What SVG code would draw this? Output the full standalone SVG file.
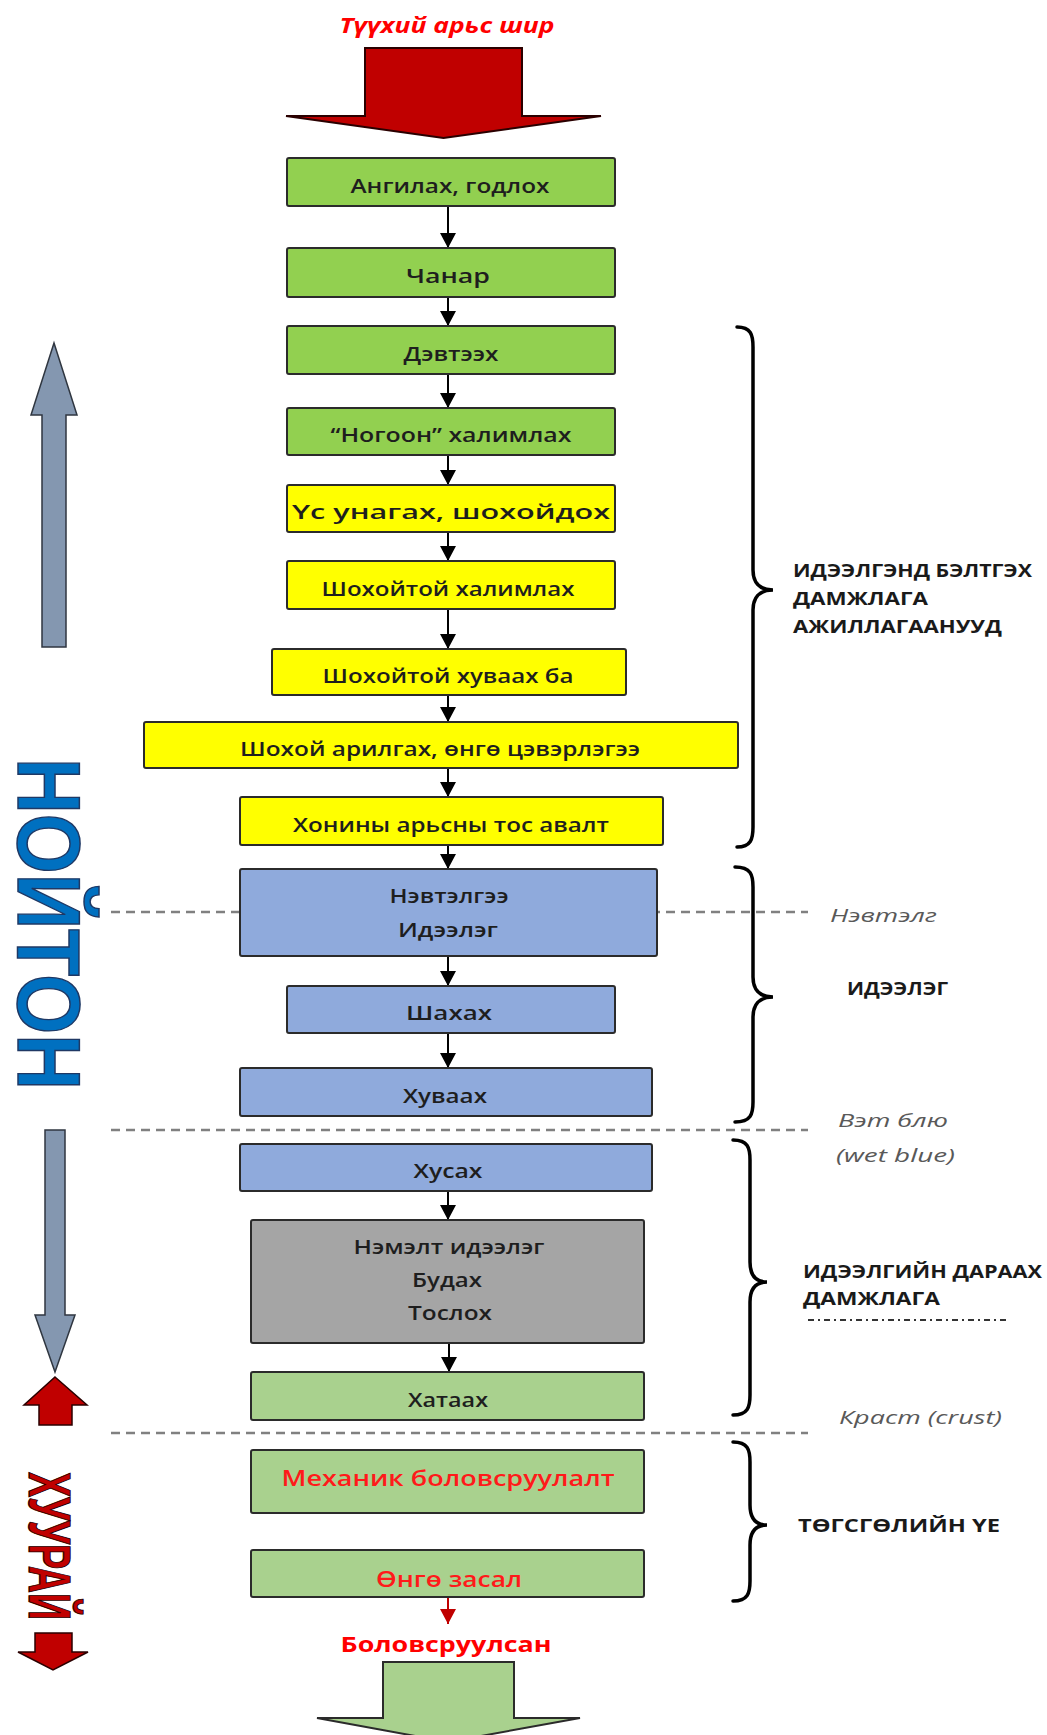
<svg xmlns="http://www.w3.org/2000/svg" width="1047" height="1735" viewBox="0 0 1047 1735">
<defs>
<style>
.bx{stroke:#2b2b2b;stroke-width:2}
.g1{fill:#92D050}.ye{fill:#FFFF00}.bl{fill:#8FAADC}.gr{fill:#A5A5A5}.g2{fill:#A9D18E}
.t{font-family:"Open Sans","DejaVu Sans",sans-serif;font-size:20px;font-weight:600;fill:#1e1e1e;text-anchor:middle}
.tr{font-family:"Open Sans","DejaVu Sans",sans-serif;font-size:22px;font-weight:600;fill:#FF1a1a;text-anchor:middle}
.lb{font-family:"Open Sans","DejaVu Sans",sans-serif;font-size:18px;font-weight:bold;fill:#1a1a1a}
.li{font-family:"Open Sans","DejaVu Sans",sans-serif;font-size:19px;font-style:italic;fill:#595959}
.dash{stroke:#808080;stroke-width:2.5;stroke-dasharray:9 6;fill:none}
.con{stroke:#000;stroke-width:2;fill:none}
.brace{stroke:#000;stroke-width:3.5;fill:none;stroke-linecap:round}
.bga{fill:#8497B0;stroke:#2F3640;stroke-width:1.5}
.rda{fill:#C00000;stroke:#2a0000;stroke-width:1.5}
</style>
<marker id="ah" markerUnits="userSpaceOnUse" markerWidth="16" markerHeight="16" refX="15" refY="8" orient="auto">
<path d="M0,0 L15,8 L0,16 z" fill="#000"/>
</marker>
<marker id="ahr" markerUnits="userSpaceOnUse" markerWidth="16" markerHeight="16" refX="15" refY="8" orient="auto">
<path d="M0,0 L15,8 L0,16 z" fill="#C00000"/>
</marker>
</defs>
<rect width="1047" height="1735" fill="#fff"/>

<g id="dashed-lines">
<line class="dash" x1="111" y1="912" x2="808" y2="912"/>
<line class="dash" x1="111" y1="1130" x2="808" y2="1130"/>
<line class="dash" x1="111" y1="1433" x2="808" y2="1433"/>
<line x1="808" y1="1320" x2="1010" y2="1320" stroke="#333" stroke-width="2" stroke-dasharray="6 4 2 4"/>
</g>

<g id="title">
<text x="447" y="33" font-family="'Open Sans','DejaVu Sans',sans-serif" font-size="21" font-weight="bold" font-style="italic" fill="#FF0000" text-anchor="middle" textLength="215" lengthAdjust="spacingAndGlyphs">Түүхий арьс шир</text>
<polygon points="365,48 522,48 522,116 601,116 443.5,138 286,116 365,116" fill="#C00000" stroke="#2a0000" stroke-width="2"/>
</g>

<g id="connectors">
<line class="con" x1="448" y1="206" x2="448" y2="248" marker-end="url(#ah)"/>
<line class="con" x1="448" y1="297" x2="448" y2="326" marker-end="url(#ah)"/>
<line class="con" x1="448" y1="374" x2="448" y2="408" marker-end="url(#ah)"/>
<line class="con" x1="448" y1="455" x2="448" y2="485" marker-end="url(#ah)"/>
<line class="con" x1="448" y1="532" x2="448" y2="561" marker-end="url(#ah)"/>
<line class="con" x1="448" y1="609" x2="448" y2="649" marker-end="url(#ah)"/>
<line class="con" x1="448" y1="695" x2="448" y2="722" marker-end="url(#ah)"/>
<line class="con" x1="448" y1="768" x2="448" y2="797" marker-end="url(#ah)"/>
<line class="con" x1="448" y1="845" x2="448" y2="869" marker-end="url(#ah)"/>
<line class="con" x1="448" y1="956" x2="448" y2="986" marker-end="url(#ah)"/>
<line class="con" x1="448" y1="1033" x2="448" y2="1068" marker-end="url(#ah)"/>
<line class="con" x1="448" y1="1191" x2="448" y2="1220" marker-end="url(#ah)"/>
<line class="con" x1="449" y1="1343" x2="449" y2="1372" marker-end="url(#ah)"/>
<line x1="448" y1="1597" x2="448" y2="1624" stroke="#C00000" stroke-width="2" marker-end="url(#ahr)"/>
</g>

<g id="n1"><rect class="bx g1" x="287" y="158" width="328" height="48" rx="2"/><text class="t" x="450" y="193" textLength="199" lengthAdjust="spacingAndGlyphs">Ангилах, годлох</text></g>
<g id="n2"><rect class="bx g1" x="287" y="248" width="328" height="49" rx="2"/><text class="t" x="448" y="283" textLength="84" lengthAdjust="spacingAndGlyphs">Чанар</text></g>
<g id="n3"><rect class="bx g1" x="287" y="326" width="328" height="48" rx="2"/><text class="t" x="451" y="361" textLength="95" lengthAdjust="spacingAndGlyphs">Дэвтээх</text></g>
<g id="n4"><rect class="bx g1" x="287" y="408" width="328" height="47" rx="2"/><text class="t" x="451" y="442" textLength="241" lengthAdjust="spacingAndGlyphs">“Ногоон” халимлах</text></g>
<g id="n5"><rect class="bx ye" x="287" y="485" width="328" height="47" rx="2"/><text class="t" x="451" y="519" textLength="318" lengthAdjust="spacingAndGlyphs">Үс унагах, шохойдох</text></g>
<g id="n6"><rect class="bx ye" x="287" y="561" width="328" height="48" rx="2"/><text class="t" x="448" y="596" textLength="253" lengthAdjust="spacingAndGlyphs">Шохойтой халимлах</text></g>
<g id="n7"><rect class="bx ye" x="272" y="649" width="354" height="46" rx="2"/><text class="t" x="448" y="683" textLength="251" lengthAdjust="spacingAndGlyphs">Шохойтой хуваах ба</text></g>
<g id="n8"><rect class="bx ye" x="144" y="722" width="594" height="46" rx="2"/><text class="t" x="440" y="756" textLength="400" lengthAdjust="spacingAndGlyphs">Шохой арилгах, өнгө цэвэрлэгээ</text></g>
<g id="n9"><rect class="bx ye" x="240" y="797" width="423" height="48" rx="2"/><text class="t" x="451" y="832" textLength="316" lengthAdjust="spacingAndGlyphs">Хонины арьсны тос авалт</text></g>
<g id="n10"><rect class="bx bl" x="240" y="869" width="417" height="87" rx="2"/><text class="t" x="449" y="903" textLength="119" lengthAdjust="spacingAndGlyphs">Нэвтэлгээ</text><text class="t" x="448" y="937" textLength="100" lengthAdjust="spacingAndGlyphs">Идээлэг</text></g>
<g id="n11"><rect class="bx bl" x="287" y="986" width="328" height="47" rx="2"/><text class="t" x="449" y="1020" textLength="86" lengthAdjust="spacingAndGlyphs">Шахах</text></g>
<g id="n12"><rect class="bx bl" x="240" y="1068" width="412" height="48" rx="2"/><text class="t" x="445" y="1103" textLength="84" lengthAdjust="spacingAndGlyphs">Хуваах</text></g>
<g id="n13"><rect class="bx bl" x="240" y="1144" width="412" height="47" rx="2"/><text class="t" x="448" y="1178" textLength="69" lengthAdjust="spacingAndGlyphs">Хусах</text></g>
<g id="n14"><rect class="bx gr" x="251" y="1220" width="393" height="123" rx="2"/><text class="t" x="449" y="1254" textLength="191" lengthAdjust="spacingAndGlyphs">Нэмэлт идээлэг</text><text class="t" x="447" y="1287" textLength="70" lengthAdjust="spacingAndGlyphs">Будах</text><text class="t" x="450" y="1320" textLength="84" lengthAdjust="spacingAndGlyphs">Тослох</text></g>
<g id="n15"><rect class="bx g2" x="251" y="1372" width="393" height="48" rx="2"/><text class="t" x="448" y="1407" textLength="80" lengthAdjust="spacingAndGlyphs">Хатаах</text></g>
<g id="n16"><rect class="bx g2" x="251" y="1450" width="393" height="63" rx="2"/><text class="tr" x="448" y="1486" textLength="333" lengthAdjust="spacingAndGlyphs">Механик боловсруулалт</text></g>
<g id="n17"><rect class="bx g2" x="251" y="1550" width="393" height="47" rx="2"/><text class="tr" x="449" y="1587" textLength="146" lengthAdjust="spacingAndGlyphs">Өнгө засал</text></g>

<g id="output">
<text x="446" y="1652" font-family="'Open Sans','DejaVu Sans',sans-serif" font-size="21" font-weight="bold" fill="#FF0000" text-anchor="middle" textLength="211" lengthAdjust="spacingAndGlyphs">Боловсруулсан</text>
<polygon points="383,1662 514,1662 514,1718 580,1718 448,1742 317,1718 383,1718" fill="#A9D18E" stroke="#2b2b2b" stroke-width="2"/>
</g>

<g id="braces">
<path class="brace" d="M737,327 C751,327 753,335 753,347 L753,570 C753,582 759,590 773,590 C759,590 753,598 753,610 L753,827 C753,839 751,847 737,847"/>
<path class="brace" d="M735,867 C751,867 753,875 753,887 L753,977 C753,989 759,997 773,997 C759,997 753,1005 753,1017 L753,1102 C753,1114 751,1122 735,1122"/>
<path class="brace" d="M733,1140 C748,1140 750,1148 750,1160 L750,1262 C750,1274 755,1282 767,1282 C755,1282 750,1290 750,1302 L750,1395 C750,1407 748,1415 733,1415"/>
<path class="brace" d="M733,1442 C748,1442 750,1450 750,1462 L750,1505 C750,1517 755,1525 767,1525 C755,1525 750,1533 750,1545 L750,1581 C750,1593 748,1601 733,1601"/>
</g>

<g id="labels">
<text class="lb" x="793" y="577" textLength="239" lengthAdjust="spacingAndGlyphs">ИДЭЭЛГЭНД БЭЛТГЭХ</text>
<text class="lb" x="793" y="605" textLength="135" lengthAdjust="spacingAndGlyphs">ДАМЖЛАГА</text>
<text class="lb" x="793" y="633" textLength="209" lengthAdjust="spacingAndGlyphs">АЖИЛЛАГААНУУД</text>
<text class="lb" x="847" y="995" textLength="101" lengthAdjust="spacingAndGlyphs">ИДЭЭЛЭГ</text>
<text class="lb" x="803" y="1278" textLength="239" lengthAdjust="spacingAndGlyphs">ИДЭЭЛГИЙН ДАРААХ</text>
<text class="lb" x="803" y="1305" textLength="137" lengthAdjust="spacingAndGlyphs">ДАМЖЛАГА</text>
<text class="lb" x="798" y="1532" textLength="202" lengthAdjust="spacingAndGlyphs">ТӨГСГӨЛИЙН ҮЕ</text>
<text class="li" x="830" y="922" textLength="107" lengthAdjust="spacingAndGlyphs">Нэвтэлг</text>
<text class="li" x="838" y="1127" textLength="110" lengthAdjust="spacingAndGlyphs">Вэт блю</text>
<text class="li" x="836" y="1162" textLength="119" lengthAdjust="spacingAndGlyphs">(wet blue)</text>
<text class="li" x="839" y="1424" textLength="163" lengthAdjust="spacingAndGlyphs">Краст (crust)</text>
</g>

<g id="left-side">
<polygon class="bga" points="54,343 77,415 66,415 66,647 42,647 42,415 31,415"/>
<text transform="translate(18,758) rotate(90)" font-family="'Liberation Sans',Arial,sans-serif" font-size="89" font-weight="bold" fill="#0070C0" stroke="#1F3864" stroke-width="1.5" textLength="332" lengthAdjust="spacingAndGlyphs">НОЙТОН</text>
<polygon class="bga" points="45,1130 65,1130 65,1315 75,1315 55,1372 35,1315 45,1315"/>
<polygon class="rda" points="55,1377 87,1405 72,1405 72,1425 39,1425 39,1405 24,1405"/>
<text transform="translate(29,1472) rotate(90)" font-family="'Liberation Sans',Arial,sans-serif" font-size="60" font-weight="bold" fill="#C00000" stroke="#2a0000" stroke-width="1.2" textLength="148" lengthAdjust="spacingAndGlyphs">ХУУРАЙ</text>
<polygon class="rda" points="35,1633 72,1633 72,1652 88,1652 53,1670 18,1652 35,1652"/>
</g>
</svg>
